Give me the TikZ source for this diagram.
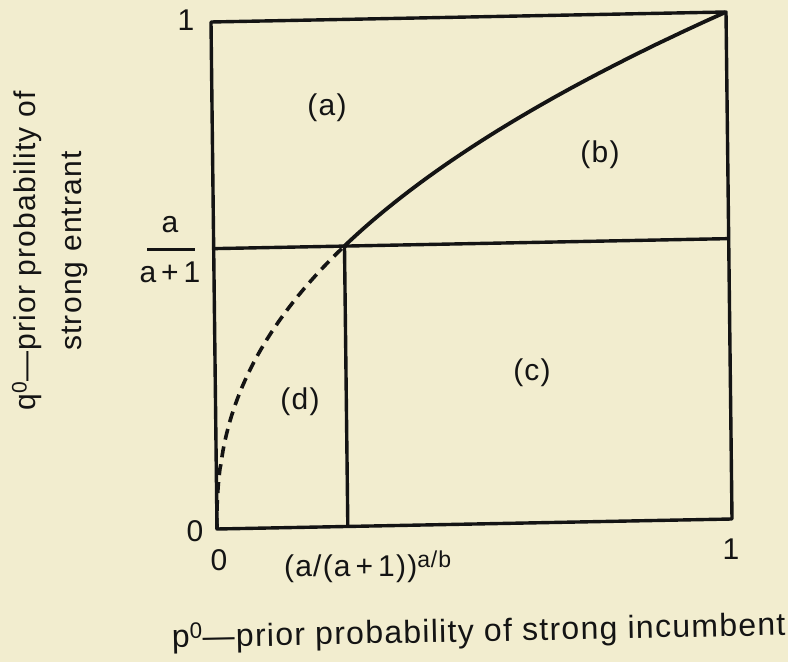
\documentclass[tikz,border=0pt]{standalone}
\usepackage{fontspec}
\setmainfont{Liberation Sans}[LetterSpace=4]
\definecolor{paper}{RGB}{242,237,207}
\definecolor{ink}{RGB}{20,20,20}
\begin{document}
\begin{tikzpicture}[x=1pt,y=1pt,
  lbl/.style={font=\fontsize{30}{36}\selectfont, inner sep=0pt, text=ink},
  frame/.style={draw=ink, line width=3.4pt, line join=round},
  curve/.style={draw=ink, line width=3.8pt},
  dashcurve/.style={draw=ink, line width=3.6pt, dash pattern=on 11pt off 7pt}]
\fill[paper] (0,0) rectangle (788,662);
\useasboundingbox (0,0) rectangle (788,662);
\begin{scope}[shift={(217,133)}, x={(515pt,10pt)}, y={(-6pt,507pt)}]
  \coordinate (O) at (0,0);
  \coordinate (P1) at (1,0);
  \coordinate (Q1) at (0,1);
  \coordinate (T) at (1,1);
  \coordinate (L) at (0,0.553);
  \coordinate (R) at (1,0.553);
  \coordinate (X) at (0.254,0.553);
  \coordinate (B) at (0.254,0);
  \draw[frame] (O) -- (P1) -- (T) -- (Q1) -- cycle;
  \draw[frame] (L) -- (R);
  \draw[frame] (X) -- (B);
  \draw[dashcurve] (O) -- plot[domain=0.01:0.553, samples=80] ({(\x)^2.315},{\x});
  \draw[curve] (X) -- plot[domain=0.56:1, samples=50] ({(\x)^2.315},{\x});
\end{scope}
% axis ticks
\node[lbl] (y1) at (186,642) {1};
\node[lbl] (y0) at (195,131) {0};
\node[lbl] (x0) at (219,102) {0};
\node[lbl] (x1) at (731,113) {1};
\node[lbl, anchor=base west] (xt) at (284,85) {(a/(a\,+\,1))\textsuperscript{\fontsize{23}{23}\selectfont a/b}};
% fraction a/(a+1)
\node[lbl, anchor=base] (fa) at (170,429) {a};
\node[lbl, anchor=base] (fb) at (170,379) {a\,+\,1};
\coordinate (fl) at (147,412);
\coordinate (fr) at (195,412);
\draw[draw=ink, line width=3pt] (fl) -- (fr);
% region labels
\node[lbl] (ra) at (327,554) {(a)};
\node[lbl] (rb) at (600,507) {(b)};
\node[lbl] (rc) at (532,289) {(c)};
\node[lbl] (rd) at (300,260) {(d)};
% axis titles
\node[lbl, font=\fontsize{32}{38}\selectfont, anchor=base west, rotate=1.2] (xlab) at (172,14) {p\textsuperscript{0}—prior probability of strong incumbent};
\node[lbl, font=\fontsize{30}{46}\selectfont, rotate=90, align=center] (ylab) at (50,411) {q\textsuperscript{0}—prior probability of\\strong entrant};
\end{tikzpicture}
\end{document}
